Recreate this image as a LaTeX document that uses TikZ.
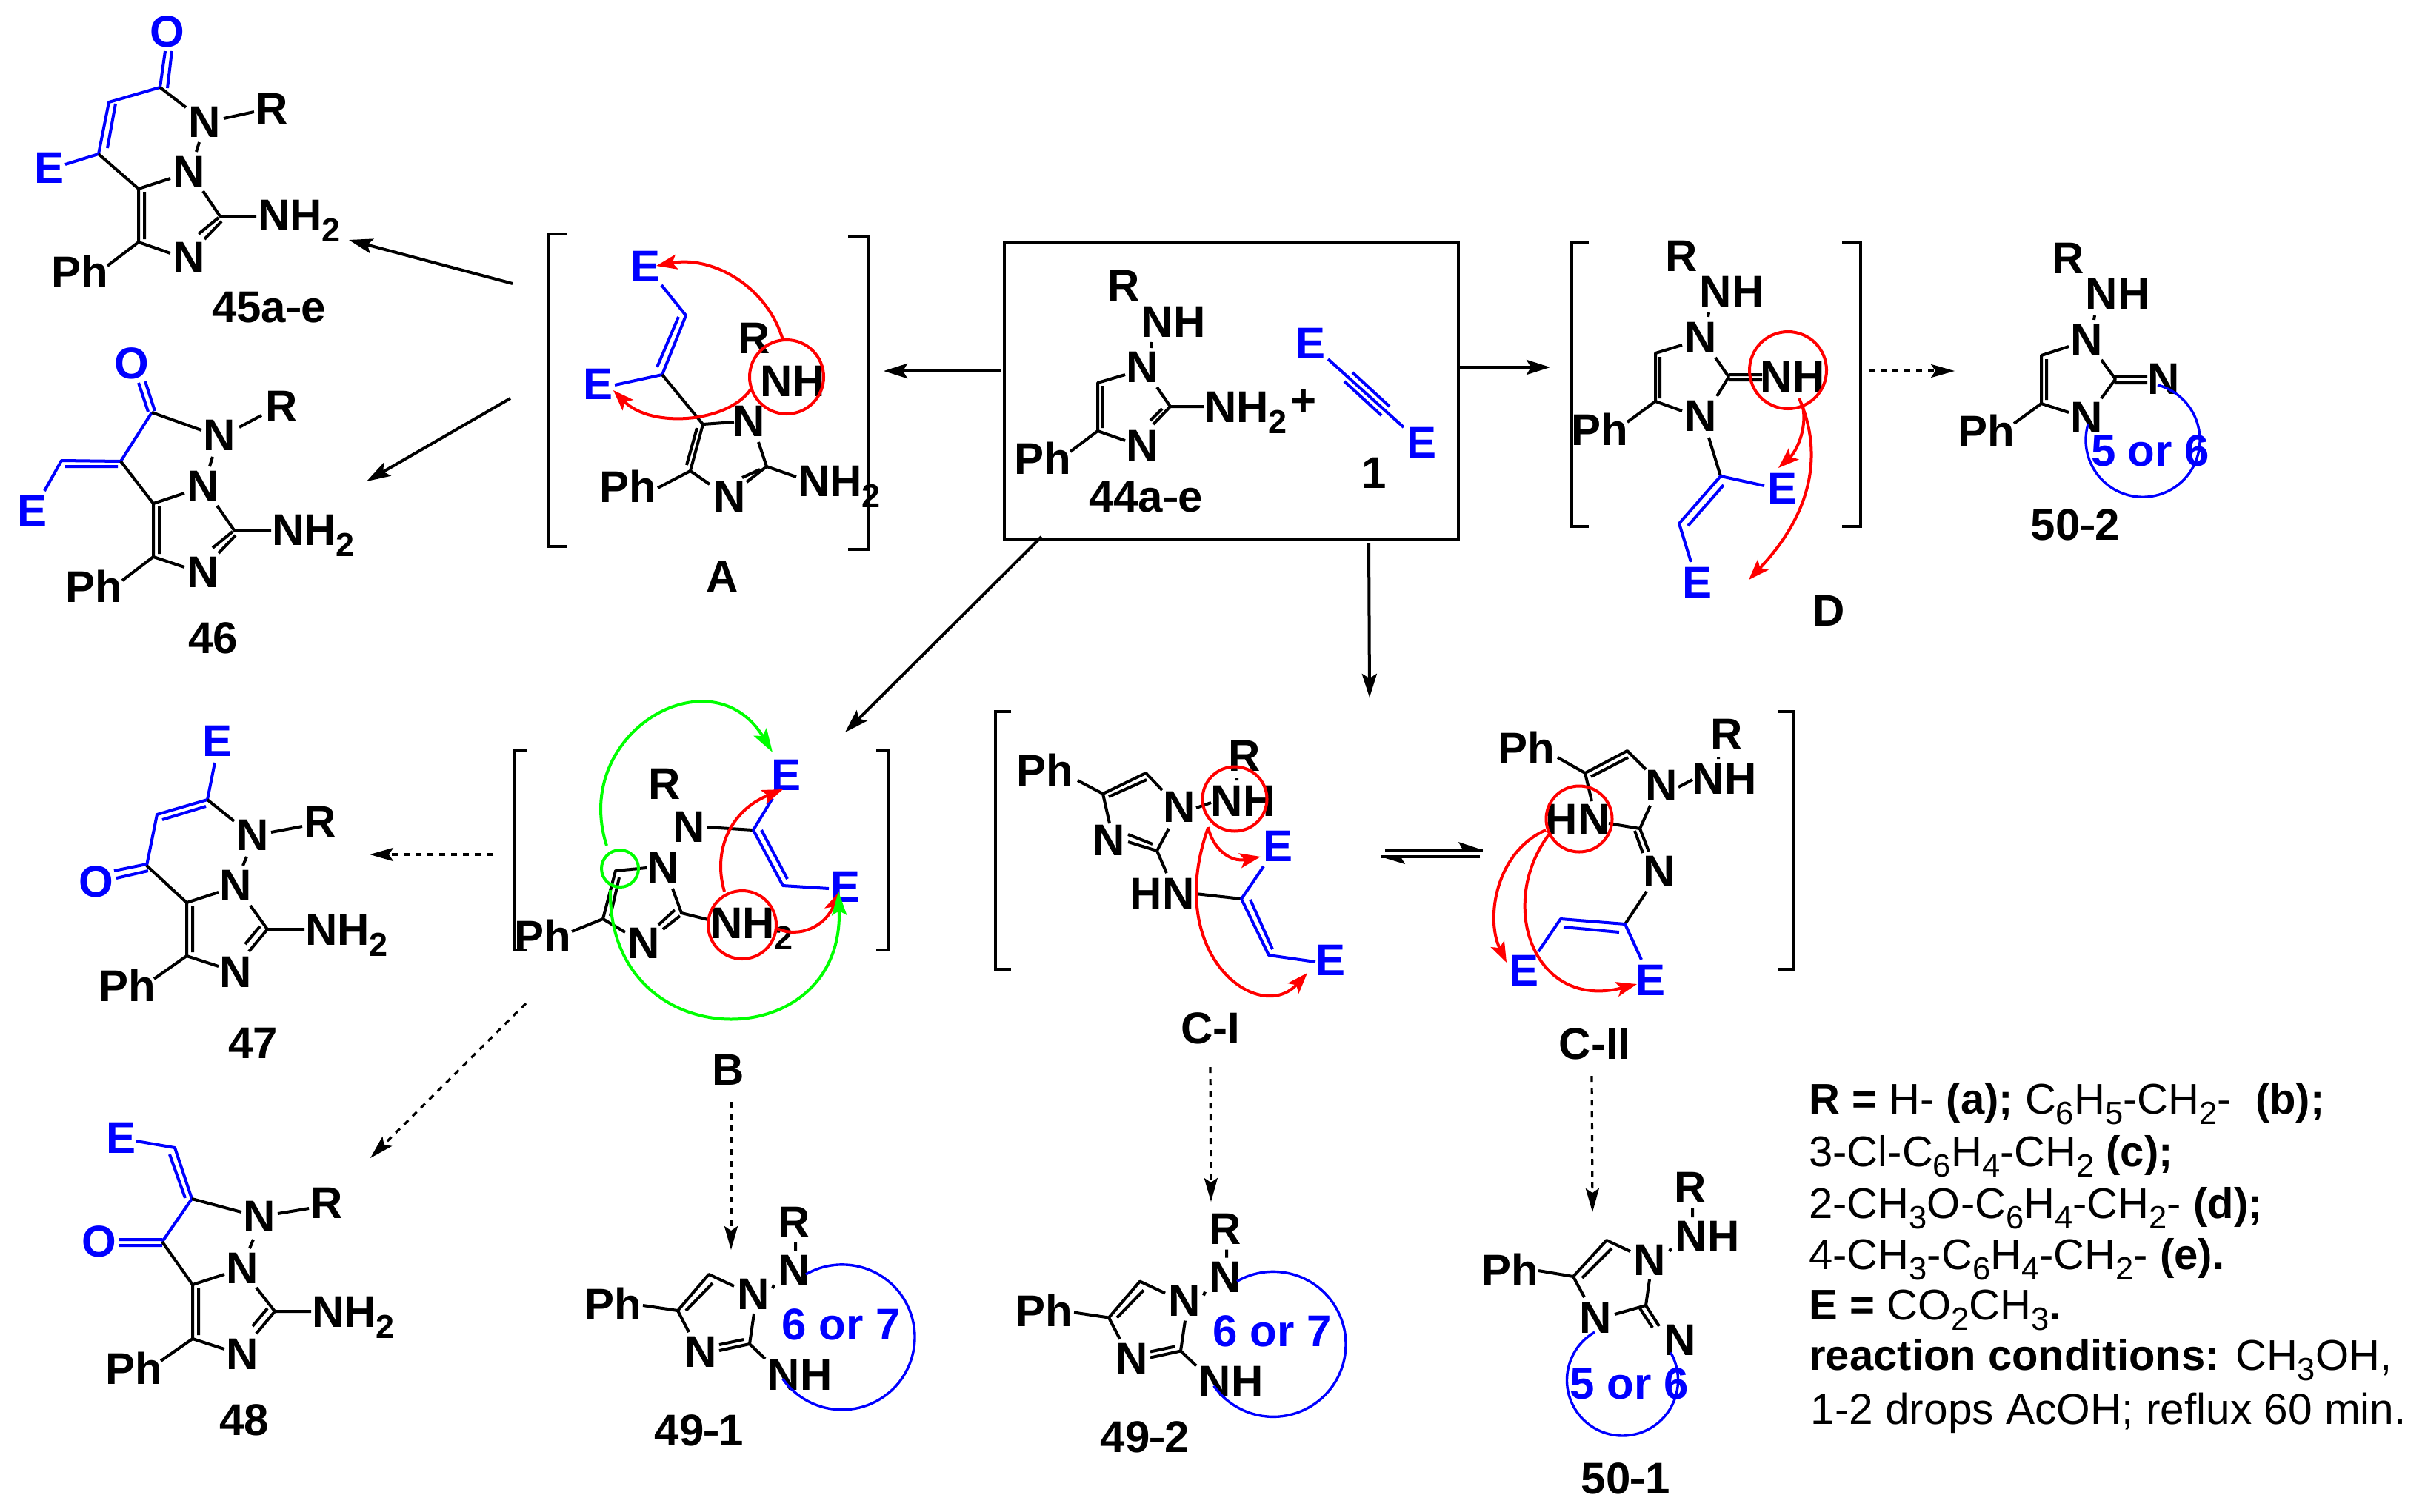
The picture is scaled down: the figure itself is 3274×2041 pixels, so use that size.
\documentclass[tikz,border=0pt]{standalone}
\usepackage{fontspec}
\setmainfont{Liberation Sans}
\usetikzlibrary{arrows.meta}
\definecolor{cblue}{HTML}{0000FF}
\definecolor{cred}{HTML}{FF0000}
\definecolor{cgreen}{HTML}{00FF00}
\newcommand\ssub[1]{\raisebox{-0.25em}{\scalebox{.75}{#1}}}
\newcommand\dsh{\scalebox{.6}[1]{–}}
\newcommand\At[4]{\node[chem] (#1) at (#2,#3) {#4};}
\newcommand\Ab[4]{\node[chemb] (#1) at (#2,#3) {#4};}
\newcommand\NHtwo{NH\ssub{2}}
\newcommand\FortyNine[1]{%
  \At{#1R}{1072}{1650}{R}\At{#1Na}{1072}{1715}{N}\At{#1Nb}{1017}{1747}{N}\At{#1Nc}{946}{1825}{N}
  \At{#1NH}{1080}{1856}{NH}\At{#1Ph}{828}{1761}{Ph}
  \Ab{#1ring}{1136}{1788}{6 or 7}
  \draw[bond] (1074,1678)--(1074,1689) (1045,1735)--(1043,1740)
    (991,1737)--(957,1721)--(915,1770)--(868,1763) (915,1770)--(930,1799)
    (1018,1774)--(1012,1815)--(1033,1835);
  \draw[bond] (962,1733)--(926,1770) (971,1816)--(1004,1809) (971,1824)--(1012,1815);
  \draw[ring] (1088,1721) arc[start angle=120,end angle=-145,radius=49pt];
}
\tikzset{
  chem/.style={font=\bfseries\fontsize{30}{36}\selectfont,inner sep=0pt,anchor=base,yshift=-10.7pt,text=black},
  chemb/.style={chem,text=cblue},
  bond/.style={line width=2pt,draw=black,line join=round},
  bondb/.style={line width=2pt,draw=cblue,line join=round},
  brk/.style={line width=2pt,draw=black},
  ring/.style={line width=1.7pt,draw=cblue},
  rcurve/.style={line width=2pt,draw=cred,-{Stealth[length=14pt,width=10pt,inset=3pt,fill=cred]}},
  gcurve/.style={line width=2pt,draw=cgreen,-{Stealth[length=16pt,width=10pt,inset=3pt,fill=cgreen]}},
  arr/.style={line width=2pt,-{Stealth[length=16pt,width=10pt,inset=3pt]}},
  darr/.style={line width=1.6pt,dash pattern=on 4pt off 4pt,-{Stealth[length=16pt,width=9pt,inset=3pt,fill=black]}},
  panel/.style={font=\fontsize{29}{35}\selectfont,inner sep=0pt,anchor=base west},
}
\begin{document}
\begin{tikzpicture}[x=0.5pt,y=-0.5pt]
\useasboundingbox (0,0) rectangle (3274,2041);
\fill[white] (0,0) rectangle (3274,2041);

% ---------- 45
\Ab{o45}{226}{42}{O}\Ab{e45}{67}{226}{E}
\At{na45}{276}{164}{N}\At{r45}{367}{146}{R}\At{nb45}{255}{231}{N}\At{nc45}{255}{347}{N}
\At{nh45}{404}{290}{\NHtwo}\At{ph45}{108}{367}{Ph}\At{l45}{363}{414}{45a\dsh e}
\draw[bondb] (216,118)--(223,69) (226,119)--(232,69);
\draw[bondb] (88,222)--(133,208)--(147,138)--(216,118);
\draw[bondb] (145,200)--(156,140);
\draw[bond] (133,208)--(187,255)--(230,241) (187,255)--(187,327)--(230,342) (195,259)--(195,323)
  (274,258)--(297,292)--(346,292) (295,294)--(268,316) (299,299)--(276,323)
  (187,327)--(145,359) (216,118)--(251,145) (302,160)--(343,151) (269,192)--(265,205);
% ---------- 46
\Ab{o46}{178}{490}{O}\Ab{e46}{44}{689}{E}
\At{na46}{296}{587}{N}\At{r46}{380}{548}{R}\At{nb46}{274}{656}{N}\At{nc46}{274}{772}{N}
\At{nh46}{423}{715}{\NHtwo}\At{ph46}{127}{792}{Ph}\At{l46}{288}{861}{46}
\draw[bondb] (187,517)--(200,556) (196,515)--(209,555);
\draw[bondb] (205,557)--(163,623)--(83,622)--(60,663) (88,630)--(159,630);
\draw[bond] (205,557)--(272,581) (323,577)--(353,561) (287,617)--(283,630)
  (163,623)--(207,680)--(249,666) (207,680)--(207,752)--(249,766) (215,684)--(215,748)
  (207,752)--(165,784) (293,683)--(316,716)--(366,716) (314,718)--(287,740) (318,723)--(295,747);
% ---------- A
\draw[brk] (765,316)--(741,316)--(741,738)--(765,738);
\draw[brk] (1145,319)--(1172,319)--(1172,742)--(1145,742);
\Ab{ea}{871}{359}{E}\Ab{eb}{807}{518}{E}
\At{ra}{1018}{456}{R}\At{nha}{1070}{514}{NH}\At{na}{1011}{568}{N}\At{nb}{985}{670}{N}
\At{nh2a}{1133}{649}{\NHtwo}\At{pha}{848}{657}{Ph}\At{la}{975}{778}{A}
\draw[bondb] (893,385)--(926,426)--(894,506)--(830,520) (916,428)--(887,496);
\draw[bond] (894,506)--(949,573)--(991,570) (949,573)--(932,636)--(958,654) (941,578)--(927,628)
  (932,636)--(888,659) (1024,597)--(1035,630)--(1075,644) (1035,630)--(1008,651) (1026,634)--(1002,645);
\node[draw=cred,line width=2pt,circle,minimum size=50pt,inner sep=0pt] (hoopa) at (1062,509) {};
\coordinate (ta1) at (886,359);
\coordinate (ta2) at (828,527);
\draw[rcurve] (1057,459) .. controls (1035,385) and (960,345) .. (ta1);
\draw[rcurve] (1014,525) .. controls (985,570) and (880,580) .. (ta2);
% ---------- main box
\node[draw,line width=2pt,minimum width=306.5pt,minimum height=201pt,inner sep=0pt] (box) at (1662.5,528) {};
\At{rm}{1517}{385}{R}\At{nhm}{1584}{434}{NH}\At{nam}{1542}{495}{N}\At{nbm}{1542}{601}{N}
\At{nh2m}{1682}{549}{\NHtwo}\At{pm}{1760}{540}{+}\At{phm}{1408}{619}{Ph}\At{lm}{1547}{670}{44a\dsh e}
\Ab{e1m}{1769}{463}{E}\Ab{e2m}{1919}{597}{E}\At{one}{1855}{638}{1}
\draw[bond] (1519,506)--(1482,517)--(1482,582)--(1519,595) (1488,521)--(1488,578)
  (1482,582)--(1445,610) (1562,523)--(1580,549)--(1625,549) (1580,549)--(1557,573) (1569,552)--(1553,568)
  (1555,462)--(1554,470);
\draw[bondb] (1793,485)--(1895,577);
\draw[bondb] (1826,503)--(1876,549) (1815,515)--(1865,561);
% ---------- D
\draw[brk] (2145,327)--(2122,327)--(2122,711)--(2145,711);
\draw[brk] (2487,327)--(2512,327)--(2512,711)--(2487,711);
\At{rd}{2270}{345}{R}\At{nhd}{2338}{393}{NH}\At{nad}{2296}{455}{N}\At{nbd}{2296}{561}{N}
\At{nhe}{2420}{508}{NH}\At{phd}{2160}{580}{Ph}\Ab{e1d}{2406}{659}{E}\Ab{e2d}{2291}{786}{E}\At{ld}{2469}{824}{D}
\draw[bond] (2271,466)--(2235,477)--(2235,542)--(2271,555) (2241,482)--(2241,538)
  (2235,542)--(2197,570) (2316,483)--(2334,509)--(2318,535) (2334,506)--(2379,506) (2334,513)--(2379,513)
  (2307,422)--(2306,428) (2307,591)--(2323,643);
\draw[bondb] (2382,656)--(2323,643)--(2267,707)--(2283,759) (2327,655)--(2279,710);
\node[draw=cred,line width=2pt,circle,minimum size=52pt,inner sep=0pt] (hoopd) at (2414,500) {};
\coordinate (td1) at (2401,632);\coordinate (td2) at (2361,783);
\draw[rcurve] (2434,549) .. controls (2440,580) and (2425,610) .. (td1);
\draw[rcurve] (2429,538) .. controls (2465,620) and (2440,700) .. (td2);
% ---------- 50-2
\At{r502}{2792}{348}{R}\At{nh502}{2859}{396}{NH}\At{na502}{2817}{458}{N}\At{nb502}{2817}{563}{N}
\At{nc502}{2921}{511}{N}\At{ph502}{2682}{582}{Ph}\At{l502}{2802}{708}{50\dsh 2}
\Ab{ring502}{2903}{608}{5 or 6}
\draw[bond] (2793,468)--(2756,480)--(2756,545)--(2793,557) (2763,485)--(2763,540)
  (2756,545)--(2719,572) (2837,486)--(2856,512)--(2837,538) (2856,508)--(2899,508) (2856,517)--(2899,517)
  (2828,426)--(2827,432);
\draw[ring] (2819,573) arc[start angle=164,end angle=435,radius=38.5pt];
% ---------- B
\draw[brk] (711,1014)--(695,1014)--(695,1283)--(711,1283);
\draw[brk] (1183,1014)--(1199,1014)--(1199,1283)--(1183,1283);
\At{rb}{897}{1058}{R}\At{nab}{930}{1116}{N}\At{nbb}{895}{1171}{N}\At{ncb}{869}{1273}{N}
\At{nh2b}{1015}{1246}{\NHtwo}\At{phb}{733}{1264}{Ph}\Ab{e1b}{1061}{1046}{E}\Ab{e2b}{1141}{1197}{E}\At{lb}{983}{1444}{B}
\draw[bond] (873,1172)--(831,1176)--(814,1241)--(844,1259) (836,1185)--(824,1237) (814,1241)--(772,1258)
  (908,1200)--(920,1233)--(956,1242) (911,1229)--(889,1249) (918,1237)--(895,1255) (955,1117)--(1017,1121);
\draw[bondb] (1043,1078)--(1017,1121)--(1057,1196)--(1119,1200) (1028,1121)--(1063,1187);
\node[draw=cred,line width=2pt,circle,minimum size=46pt,inner sep=0pt] (hoopb) at (1002,1249) {};
\node[draw=cgreen,line width=2pt,circle,minimum size=25pt,inner sep=0pt] (hoopg) at (837,1173) {};
\coordinate (tb1) at (1057,1066);\coordinate (tb2) at (1133,1204);\coordinate (tb3) at (1043,1016);\coordinate (tb4) at (1132,1204);
\draw[rcurve] (978,1204) .. controls (962,1150) and (985,1095) .. (tb1);
\draw[rcurve] (1049,1254) .. controls (1080,1268) and (1115,1250) .. (tb2);
\draw[gcurve] (819,1142) .. controls (770,990) and (960,880) .. (tb3);
\draw[gcurve] (824,1202) .. controls (820,1430) and (1140,1430) .. (tb4);
% ---------- C-I
\draw[brk] (1365,961)--(1344,961)--(1344,1309)--(1365,1309);
\draw[brk] (2400,961)--(2422,961)--(2422,1309)--(2400,1309);
\At{phc}{1411}{1040}{Ph}\At{nac}{1592}{1089}{N}\At{nbc}{1497}{1134}{N}\At{nhc}{1678}{1081}{NH}
\At{rc}{1680}{1020}{R}\At{hnc}{1569}{1206}{HN}\Ab{e1c}{1725}{1142}{E}\Ab{e2c}{1796}{1296}{E}\At{lc}{1634}{1388}{C-I}
\draw[bond] (1455,1054)--(1489,1072)--(1547,1044)--(1569,1067) (1497,1076)--(1548,1053)
  (1489,1072)--(1498,1112) (1578,1119)--(1562,1149)--(1575,1179) (1562,1149)--(1523,1137) (1556,1140)--(1523,1127)
  (1615,1091)--(1635,1084) (1670,1051)--(1670,1054) (1614,1207)--(1676,1214);
\draw[bondb] (1706,1170)--(1676,1214)--(1713,1290)--(1776,1299) (1688,1215)--(1718,1282);
\node[draw=cred,line width=2pt,circle,minimum size=43.5pt,inner sep=0pt] (hoopc) at (1667,1079) {};
\coordinate (tc1) at (1702,1157);\coordinate (tc2) at (1765,1314);
\draw[rcurve] (1631,1117) .. controls (1637,1145) and (1660,1165) .. (tc1);
\draw[rcurve] (1631,1118) .. controls (1570,1290) and (1700,1385) .. (tc2);
% ---------- C-II
\At{phe}{2061}{1010}{Ph}\At{nae}{2243}{1060}{N}\At{nhf}{2328}{1051}{NH}\At{re}{2331}{991}{R}
\At{hne}{2130}{1106}{HN}\At{nbe}{2240}{1176}{N}\Ab{e1e}{2057}{1310}{E}\Ab{e2e}{2228}{1323}{E}\At{le}{2153}{1409}{C-II}
\draw[bond] (2103,1023)--(2140,1044)--(2197,1014)--(2222,1039) (2148,1049)--(2198,1023)
  (2140,1044)--(2149,1082) (2266,1063)--(2285,1053) (2320,1022)--(2320,1025)
  (2228,1088)--(2214,1119)--(2172,1112) (2214,1119)--(2226,1150) (2207,1122)--(2218,1152) (2223,1204)--(2194,1248);
\draw[bondb] (2216,1296)--(2194,1248)--(2107,1241)--(2077,1285) (2111,1252)--(2186,1259);
\node[draw=cred,line width=2pt,circle,minimum size=44.5pt,inner sep=0pt] (hoope) at (2132,1106) {};
\coordinate (te1) at (2034,1300);\coordinate (te2) at (2210,1329);
\draw[rcurve] (2087,1121) .. controls (2020,1150) and (2005,1240) .. (te1);
\draw[rcurve] (2092,1126) .. controls (2020,1220) and (2070,1365) .. (te2);
% equilibrium
\coordinate (eqa) at (1870,1148);\coordinate (eqb) at (2002,1148);\coordinate (eqc) at (1998,1157);\coordinate (eqd) at (1864,1157);
\draw[bond] (eqa)--(eqb) (eqc)--(eqd);
\fill (eqb)--(1969,1137)--(1975,1148)--cycle;
\fill (eqd)--(1897,1167)--(1891,1157)--cycle;
% ---------- 47
\Ab{e47}{294}{1000}{E}\Ab{o47}{130}{1190}{O}
\At{na47}{341}{1127}{N}\At{r47}{432}{1109}{R}\At{nb47}{318}{1195}{N}\At{nc47}{318}{1312}{N}
\At{nh47}{468}{1255}{\NHtwo}\At{ph47}{172}{1331}{Ph}\At{l47}{342}{1408}{47}
\draw[bondb] (290,1030)--(280,1080)--(212,1100)--(198,1169) (219,1107)--(278,1089) (154,1176)--(198,1167) (157,1186)--(200,1176);
\draw[bond] (280,1080)--(316,1109) (366,1124)--(408,1116) (333,1157)--(328,1169)
  (198,1169)--(252,1219)--(295,1205) (252,1219)--(252,1291)--(295,1305) (260,1224)--(260,1286)
  (252,1291)--(208,1322) (338,1223)--(361,1255)--(411,1255) (361,1255)--(336,1285) (351,1251)--(331,1275);
% ---------- 48
\Ab{e48}{164}{1536}{E}\Ab{o48}{134}{1676}{O}
\At{na48}{350}{1642}{N}\At{r48}{441}{1624}{R}\At{nb48}{327}{1712}{N}\At{nc48}{327}{1828}{N}
\At{nh48}{477}{1771}{\NHtwo}\At{ph48}{181}{1848}{Ph}\At{l48}{330}{1917}{48}
\draw[bondb] (184,1541)--(236,1550)--(259,1619)--(219,1677) (229,1559)--(250,1618) (160,1674)--(219,1674) (160,1682)--(219,1682);
\draw[bond] (259,1619)--(326,1637) (375,1639)--(417,1632) (342,1674)--(337,1686)
  (219,1677)--(260,1735)--(303,1721) (260,1735)--(260,1808)--(303,1822) (268,1740)--(268,1803)
  (260,1808)--(217,1838) (346,1739)--(371,1771)--(420,1771) (371,1771)--(346,1801) (361,1767)--(341,1791);
% ---------- 49-1, 49-2
\FortyNine{p}
\begin{scope}[shift={(582,9.5)}]\FortyNine{q}\end{scope}
\At{l491}{944}{1931}{49\dsh 1}\At{l492}{1546}{1940}{49\dsh 2}
% ---------- 50-1
\At{r501}{2282}{1603}{R}\At{nh501}{2305}{1669}{NH}\At{na501}{2227}{1701}{N}\At{nb501}{2154}{1779}{N}
\At{nc501}{2268}{1809}{N}\At{ph501}{2039}{1715}{Ph}\At{l501}{2195}{1996}{50\dsh 1}
\Ab{ring501}{2200}{1868}{5 or 6}
\draw[bond] (2285,1631)--(2285,1644) (2256,1686)--(2254,1690) (2201,1690)--(2169,1675)--(2124,1724)--(2077,1716)
  (2176,1686)--(2136,1726) (2124,1724)--(2139,1752) (2227,1728)--(2222,1763)--(2180,1775)
  (2222,1763)--(2240,1791) (2214,1767)--(2231,1793);
\draw[ring] (2153,1799) arc[start angle=120,end angle=390,radius=37.5pt];
% ---------- reaction arrows
\coordinate (s45) at (692,383);\coordinate (t45) at (471,324);
\coordinate (s46) at (689,538);\coordinate (t46) at (495,650);
\coordinate (sa) at (1352,501);\coordinate (ta) at (1193,501);
\coordinate (sd) at (1971,496);\coordinate (td) at (2093,496);
\coordinate (sb) at (1406,725);\coordinate (tb) at (1141,989);
\coordinate (sc) at (1848,733);\coordinate (tc) at (1849,942);
\draw[arr] (s45)--(t45);\draw[arr] (s46)--(t46);\draw[arr] (sa)--(ta);\draw[arr] (sd)--(td);\draw[arr] (sb)--(tb);\draw[arr] (sc)--(tc);
\coordinate (s50) at (2523,501);\coordinate (t50) at (2639,501);
\coordinate (s47) at (665,1154);\coordinate (t47) at (499,1154);
\coordinate (s48) at (710,1355);\coordinate (t48) at (500,1564);
\coordinate (s49) at (987,1488);\coordinate (t49) at (987,1688);
\coordinate (s49b) at (1634,1441);\coordinate (t49b) at (1635,1623);
\coordinate (s51) at (2149,1453);\coordinate (t51) at (2150,1637);
\draw[darr] (s50)--(t50);\draw[darr] (s47)--(t47);\draw[darr] (s48)--(t48);\draw[darr] (s49)--(t49);\draw[darr] (s49b)--(t49b);\draw[darr] (s51)--(t51);
% ---------- legend
\node[panel] (t1) at (2442,1504) {\textbf{R =} H- \textbf{(a);} C\ssub{6}H\ssub{5}-CH\ssub{2}-\ \ \textbf{(b);}};
\node[panel] (t2) at (2442,1575) {3-Cl-C\ssub{6}H\ssub{4}-CH\ssub{2} \textbf{(c);}};
\node[panel] (t3) at (2442,1645) {2-CH\ssub{3}O-C\ssub{6}H\ssub{4}-CH\ssub{2}- \textbf{(d);}};
\node[panel] (t4) at (2442,1714) {4-CH\ssub{3}-C\ssub{6}H\ssub{4}-CH\ssub{2}- \textbf{(e).}};
\node[panel] (t5) at (2442,1782) {\textbf{E =} CO\ssub{2}CH\ssub{3}\textbf{.}};
\node[panel] (t6) at (2442,1850) {\textbf{reaction conditions:} CH\ssub{3}OH,};
\node[panel] (t7) at (2444,1923) {\fontsize{29.3}{35}\selectfont 1-2 drops AcOH; reflux 60 min.};
\end{tikzpicture}
\end{document}
